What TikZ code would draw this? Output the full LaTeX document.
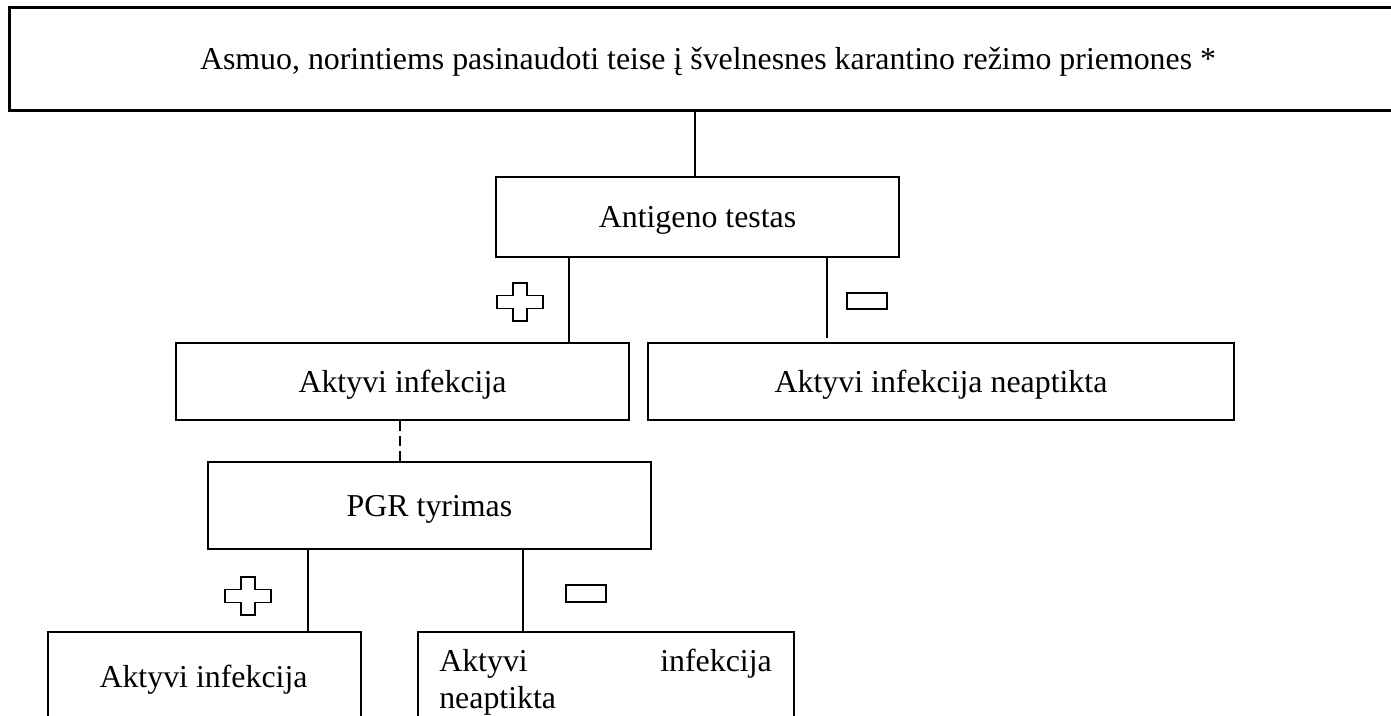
\documentclass[tikz,border=0pt]{standalone}
\usepackage{fontspec}
\setmainfont{Liberation Serif}
\begin{document}
\begin{tikzpicture}[x=0.75pt,y=-0.75pt,
  box/.style={draw,line width=1.5pt,inner sep=0pt,font=\fontsize{23.9}{27.75}\selectfont,text height=16pt,text depth=0pt},
  txt/.style={inner sep=0pt,font=\fontsize{23.9}{27.75}\selectfont},
  conn/.style={line width=1.5pt},
  sign/.style={line width=1.4pt},
  plussign/.pic={\draw[sign] (-7,-19) -- (7,-19) -- (7,-6.5) -- (23,-6.5) -- (23,6.5) -- (7,6.5) -- (7,19) -- (-7,19) -- (-7,6.5) -- (-23,6.5) -- (-23,-6.5) -- (-7,-6.5) -- cycle;}]
\useasboundingbox (0,0) rectangle (1391,715);
\fill[white] (0,0) rectangle (1391,715);
\clip (0,0) rectangle (1391,715);
\node[box,line width=2.25pt,minimum width=1048.5pt,minimum height=77.25pt] (top) at (708,58.5) {Asmuo, norintiems pasinaudoti teise į švelnesnes karantino režimo priemones *};
\node[box,minimum width=302.25pt,minimum height=60pt] (antigen) at (697.5,217) {Antigeno testas};
\node[box,minimum width=339.75pt,minimum height=57.75pt] (aktyvi) at (402.5,381.5) {Aktyvi infekcija};
\node[box,minimum width=439.5pt,minimum height=57.75pt] (neapt) at (941,381.5) {Aktyvi infekcija neaptikta};
\node[box,minimum width=332.25pt,minimum height=65.25pt] (pgr) at (429.5,505.5) {PGR tyrimas};
\node[box,minimum width=234.75pt,minimum height=96.75pt,anchor=north west] (botL) at (47,631) {};
\node[box,minimum width=282pt,minimum height=96.75pt,anchor=north west] (botR) at (417,631) {};
\node[txt,anchor=base] (botLt) at (203.5,687) {Aktyvi infekcija};
\node[txt,anchor=base west] (botRa) at (439,671) {Aktyvi};
\node[txt,anchor=base east] (botRb) at (772,671) {infekcija};
\node[txt,anchor=base west] (botRc) at (439,708) {neaptikta};
\draw[conn] (top.south -| 695,0) -- (antigen.north -| 695,0);
\draw[conn] (antigen.south -| 569,0) -- (aktyvi.north -| 569,0);
\draw[conn,shorten >=3pt] (antigen.south -| 827,0) -- (neapt.north -| 827,0);
\draw[conn,dash pattern=on 7.5pt off 3.75pt] (aktyvi.south -| 400,0) -- (pgr.north -| 400,0);
\draw[conn] (pgr.south -| 308,0) -- (botL.north -| 308,0);
\draw[conn] (pgr.south -| 523,0) -- (botR.north -| 523,0);
\pic at (520,302) {plussign};
\pic at (248,596) {plussign};
\draw[sign] (847,293) rectangle (887,309);
\draw[sign] (566,585) rectangle (606,602);
\end{tikzpicture}
\end{document}
